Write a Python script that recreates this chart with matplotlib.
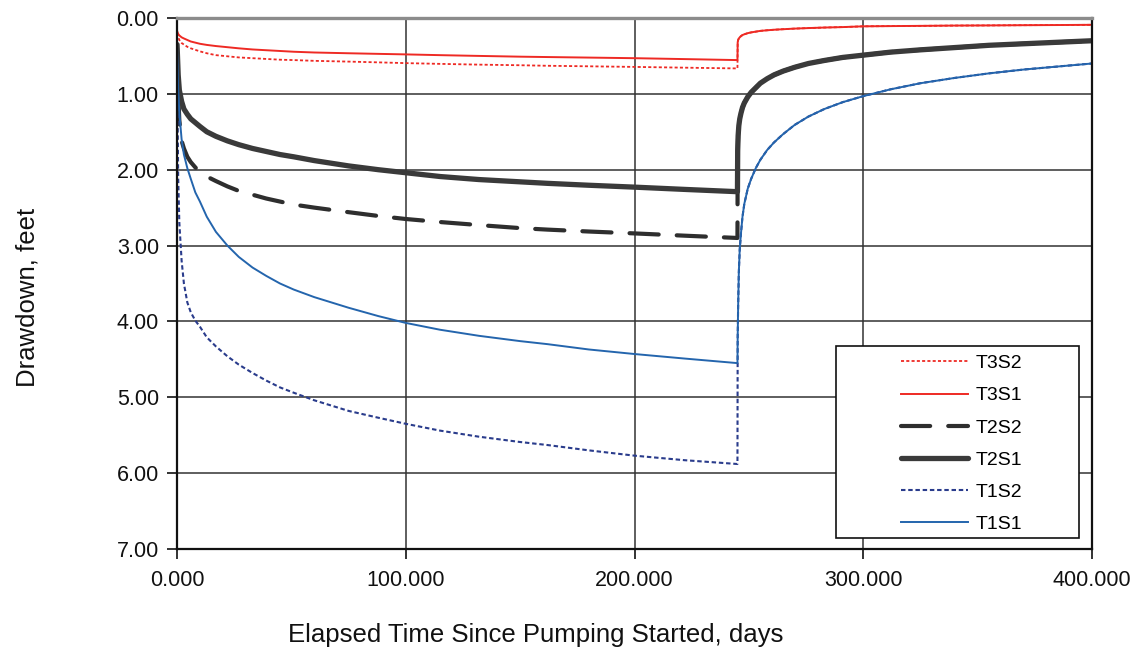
import matplotlib
matplotlib.use("Agg")
import matplotlib.pyplot as plt
from matplotlib.ticker import FormatStrFormatter, MultipleLocator
from matplotlib.patches import Rectangle

plt.rcParams['font.family'] = ['Liberation Sans', 'DejaVu Sans']
plt.rcParams['lines.scale_dashes'] = False

# 揚水期間（0〜245日）の読み取り値
pump_days = [0, 0.5, 1, 2, 3, 4.5, 6, 8, 10, 13, 17, 22, 27, 33, 39, 45, 51, 60, 75, 88,
             100, 115, 132, 150, 162, 180, 200, 222, 245]
t3s1_pump = [0.17, 0.21, 0.23, 0.255, 0.27, 0.29, 0.31, 0.325, 0.34, 0.355, 0.37, 0.385, 0.40,
             0.415, 0.425, 0.435, 0.445, 0.455, 0.465, 0.473, 0.48, 0.49, 0.50, 0.51, 0.515,
             0.522, 0.53, 0.542, 0.555]
t3s2_pump = [0.20, 0.25, 0.29, 0.33, 0.35, 0.38, 0.40, 0.42, 0.44, 0.465, 0.49, 0.505, 0.52,
             0.53, 0.54, 0.55, 0.555, 0.565, 0.575, 0.585, 0.595, 0.605, 0.615, 0.623, 0.63,
             0.637, 0.645, 0.655, 0.665]
t2s1_pump = [0.35, 0.75, 0.95, 1.10, 1.20, 1.27, 1.33, 1.38, 1.43, 1.50, 1.56, 1.62, 1.67,
             1.72, 1.76, 1.80, 1.83, 1.88, 1.95, 2.00, 2.04, 2.09, 2.13, 2.16, 2.18, 2.205,
             2.23, 2.26, 2.29]
t2s2_pump = [0.40, 1.00, 1.35, 1.62, 1.72, 1.83, 1.90, 1.97, 2.03, 2.09, 2.15, 2.22, 2.28,
             2.33, 2.38, 2.42, 2.46, 2.50, 2.56, 2.61, 2.65, 2.69, 2.73, 2.77, 2.79, 2.815,
             2.84, 2.87, 2.90]
t1s1_pump = [0.40, 0.95, 1.25, 1.60, 1.80, 1.98, 2.12, 2.30, 2.42, 2.62, 2.82, 3.00, 3.15,
             3.29, 3.40, 3.50, 3.58, 3.68, 3.82, 3.93, 4.02, 4.11, 4.19, 4.26, 4.30, 4.37,
             4.43, 4.49, 4.55]
t1s2_pump = [0.50, 2.10, 2.70, 3.20, 3.50, 3.75, 3.88, 3.99, 4.07, 4.21, 4.33, 4.46, 4.57,
             4.68, 4.78, 4.87, 4.94, 5.04, 5.18, 5.27, 5.35, 5.44, 5.52, 5.59, 5.63, 5.70,
             5.77, 5.83, 5.88]

# 揚水停止後の回復（S2 は S1 と重なって見える）
rec_days = [245.1, 245.3, 245.6, 246, 246.5, 247.2, 248, 249.5, 251, 253, 255, 258, 261,
            265, 270, 276, 283, 291, 300, 312, 325, 340, 355, 370, 385, 400]
t3_rec = [0.32, 0.29, 0.27, 0.255, 0.24, 0.225, 0.215, 0.20, 0.19, 0.18, 0.17, 0.162, 0.155,
          0.148, 0.14, 0.133, 0.126, 0.12, 0.11, 0.107, 0.104, 0.10, 0.098, 0.095, 0.093, 0.09]
t2_rec = [1.75, 1.55, 1.42, 1.33, 1.26, 1.18, 1.12, 1.04, 0.98, 0.92, 0.86, 0.80, 0.75,
          0.70, 0.65, 0.60, 0.56, 0.52, 0.49, 0.45, 0.42, 0.39, 0.36, 0.34, 0.32, 0.30]
t1_rec = [4.20, 3.80, 3.35, 3.05, 2.85, 2.62, 2.45, 2.25, 2.12, 1.98, 1.87, 1.74, 1.64,
          1.53, 1.41, 1.30, 1.20, 1.11, 1.03, 0.94, 0.86, 0.79, 0.73, 0.68, 0.64, 0.60]

days = pump_days + rec_days

fig = plt.figure(figsize=(11.4, 6.54), dpi=100)
ax = fig.add_axes([0.1553, 0.1606, 0.8026, 0.8119])

ax.plot(days, t3s2_pump + t3_rec, color='#ee2a24', lw=1.3, dashes=(2.2, 1.6), label='T3S2')
ax.plot(days, t3s1_pump + t3_rec, color='#ee2a24', lw=1.4, label='T3S1')
ax.plot(days, t2s2_pump + t2_rec, color='#2e2e2e', lw=3.0, dashes=(21, 13),
        dash_capstyle='round', label='T2S2')
ax.plot(days, t2s1_pump + t2_rec, color='#3a3a3a', lw=3.8, solid_capstyle='round',
        solid_joinstyle='round', label='T2S1')
ax.plot(days, t1s2_pump + t1_rec, color='#2a3c8c', lw=1.5, dashes=(3.2, 2.0), label='T1S2')
ax.plot(days, t1s1_pump + t1_rec, color='#2465ad', lw=1.4, label='T1S1')

ax.set_xlim(0, 400)
ax.set_ylim(7, 0)
ax.xaxis.set_major_locator(MultipleLocator(100))
ax.yaxis.set_major_locator(MultipleLocator(1))
ax.xaxis.set_major_formatter(FormatStrFormatter('%.3f'))
ax.yaxis.set_major_formatter(FormatStrFormatter('%.2f'))
ax.tick_params(axis='both', direction='out', length=7, width=1.2, labelsize=15.5, colors='#111111')
ax.tick_params(axis='x', pad=8)
ax.tick_params(axis='y', pad=6)
ax.grid(True, color='#333333', lw=1.1)

for side in ['left', 'bottom', 'right']:
    ax.spines[side].set_color('#111111')
    ax.spines[side].set_linewidth(1.6)
ax.spines['top'].set_color('#8c8c8c')
ax.spines['top'].set_linewidth(2.4)

ax.set_xlabel('Elapsed Time Since Pumping Started, days', fontsize=18.5, color='#111111')
ax.xaxis.set_label_coords(0.392, -0.162)
ax.xaxis.label.set_va('center')
ax.set_ylabel('Drawdown, feet', fontsize=18.5, color='#111111')
ax.yaxis.set_label_coords(-0.163, 0.473)
ax.yaxis.label.set_va('center')

# 凡例枠
ax.add_patch(Rectangle((0.7202, 0.0207), 0.2656, 0.3616, transform=ax.transAxes,
                       facecolor='white', edgecolor='#111111', lw=1.2, zorder=5))
leg = ax.legend(loc='center', bbox_to_anchor=(0.8574, 0.1980), frameon=False,
                fontsize=14, handlelength=3.45, handletextpad=0.42,
                labelspacing=0.75, borderpad=0)
leg.set_zorder(6)

plt.savefig('out.png', dpi=100)
